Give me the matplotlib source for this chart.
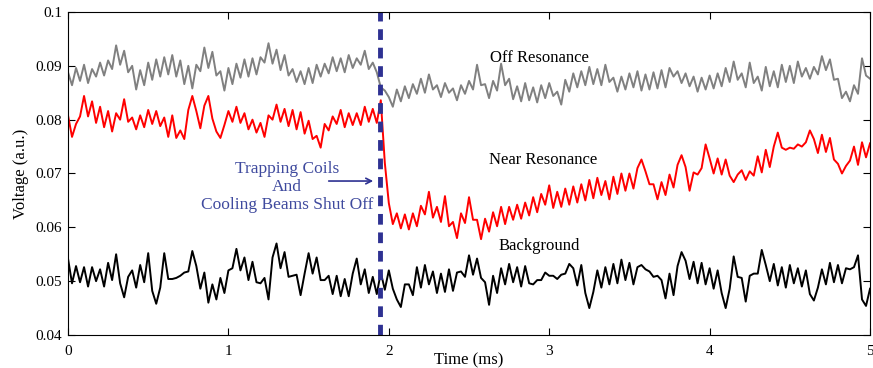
import matplotlib
matplotlib.use("Agg")
import matplotlib.pyplot as plt
import numpy as np

# sample times (ms), one reading every 0.025 ms
time_ms = np.linspace(0, 5, 201)

# readings in units of 1e-3 a.u.
off_resonance = [
    88.8, 86.4, 89.6, 87.2, 90.2, 86.8, 89.4, 88.0,
    90.6, 88.2, 91.0, 89.4, 93.8, 90.2, 92.8, 88.8,
    90.0, 85.6, 89.2, 86.4, 90.6, 87.4, 91.2, 88.0,
    91.6, 88.4, 92.0, 88.0, 91.0, 86.6, 90.0, 85.8,
    90.2, 89.0, 93.4, 89.6, 92.6, 88.2, 89.0, 85.4,
    89.6, 86.6, 90.4, 87.8, 91.2, 88.0, 91.4, 88.4,
    91.6, 90.6, 94.2, 90.4, 93.0, 89.2, 92.0, 88.2,
    89.4, 87.0, 89.0, 86.6, 89.6, 86.8, 90.2, 88.0,
    90.4, 88.6, 91.6, 89.0, 91.4, 88.8, 92.0, 89.6,
    91.4, 90.2, 92.8, 89.4, 90.6, 88.8, 86.0, 85.4,
    84.2, 82.4, 85.6, 83.4, 86.2, 84.0, 86.6, 84.8,
    87.6, 85.0, 88.4, 85.6, 86.4, 84.2, 86.8, 85.0,
    85.8, 83.6, 86.4, 84.8, 87.2, 85.6, 90.2, 86.4,
    86.6, 84.0, 87.2, 85.4, 90.4, 86.4, 87.6, 83.8,
    86.2, 83.4, 86.8, 83.6, 86.0, 83.2, 86.4, 84.0,
    86.8, 84.4, 85.2, 82.8, 87.4, 85.2, 88.6, 86.0,
    89.0, 86.4, 89.8, 86.6, 89.4, 86.4, 90.2, 87.0,
    87.8, 85.2, 88.0, 85.6, 88.6, 86.0, 89.0, 85.4,
    88.4, 85.6, 88.8, 85.8, 89.2, 86.0, 89.6, 88.0,
    89.0, 86.8, 88.6, 86.2, 88.0, 85.2, 87.8, 85.6,
    88.2, 85.8, 88.6, 86.2, 89.6, 87.0, 90.8, 87.4,
    88.6, 86.0, 90.6, 86.8, 88.0, 85.4, 89.8, 86.2,
    89.0, 86.0, 90.2, 87.0, 90.0, 86.8, 90.8, 88.0,
    89.6, 87.6, 89.8, 88.4, 91.8, 89.2, 91.2, 87.4,
    87.6, 84.0, 85.2, 83.4, 86.4, 84.8, 91.4, 88.2,
    87.6,
]

near_resonance = [
    80.8, 76.8, 79.2, 80.6, 84.4, 80.6, 83.4, 79.4,
    82.4, 78.6, 81.6, 77.8, 81.2, 80.0, 83.8, 79.6,
    80.4, 78.2, 80.8, 78.6, 81.8, 79.2, 81.6, 78.8,
    80.4, 76.8, 80.8, 76.6, 78.0, 76.4, 81.8, 84.4,
    81.6, 78.4, 82.6, 84.4, 80.2, 77.8, 76.6, 79.0,
    81.6, 79.6, 82.4, 79.4, 81.2, 78.2, 80.0, 77.6,
    79.4, 76.8, 80.8, 80.0, 82.8, 79.6, 82.0, 78.8,
    81.8, 78.2, 81.4, 77.4, 79.8, 76.4, 77.0, 74.8,
    79.2, 78.0, 80.6, 79.2, 81.8, 78.6, 81.2, 79.0,
    81.2, 79.0, 82.4, 79.6, 82.0, 79.4, 83.6, 72.0,
    64.5, 60.6, 62.6, 59.8, 62.4, 59.6, 62.6, 60.2,
    64.0, 62.4, 66.6, 61.8, 63.8, 61.0, 65.8, 60.2,
    61.0, 58.0, 62.6, 60.8, 65.6, 61.4, 61.4, 57.8,
    61.6, 59.2, 62.8, 60.2, 63.8, 60.6, 63.8, 61.4,
    64.2, 61.6, 64.6, 62.2, 65.6, 62.8, 66.2, 64.2,
    67.8, 63.6, 66.6, 63.8, 67.2, 64.2, 67.6, 64.6,
    68.0, 65.0, 68.8, 65.4, 69.2, 66.0, 68.6, 65.2,
    69.4, 66.2, 70.0, 66.8, 70.0, 67.2, 71.0, 72.6,
    70.4, 68.0, 68.0, 65.2, 68.4, 66.0, 69.8, 67.4,
    71.6, 73.4, 71.2, 66.8, 70.2, 69.8, 71.0, 75.4,
    72.8, 70.0, 72.8, 69.8, 72.6, 69.6, 68.4, 69.8,
    70.6, 68.8, 70.4, 69.6, 73.2, 70.2, 74.4, 71.2,
    75.0, 77.6, 74.8, 74.4, 74.8, 74.6, 75.4, 75.0,
    75.8, 78.0, 76.4, 73.8, 77.2, 74.0, 76.6, 72.6,
    71.8, 70.0, 71.4, 72.4, 75.0, 71.6, 75.8, 73.0,
    75.6,
]

background = [
    54.2, 49.6, 52.8, 49.8, 52.6, 49.0, 52.6, 50.0,
    52.2, 49.0, 53.4, 50.2, 55.0, 49.6, 47.0, 50.8,
    52.0, 48.8, 53.0, 49.8, 55.2, 48.2, 45.8, 48.8,
    55.2, 50.4, 50.4, 50.6, 51.0, 51.6, 51.8, 55.6,
    52.8, 48.6, 51.6, 46.0, 49.4, 46.6, 50.6, 47.8,
    52.0, 52.4, 56.0, 52.0, 54.4, 50.2, 53.6, 49.8,
    49.6, 50.6, 46.6, 54.4, 57.0, 52.4, 55.4, 50.8,
    51.0, 51.2, 47.4, 51.4, 55.2, 51.4, 54.4, 50.2,
    50.2, 51.0, 47.6, 51.0, 47.2, 50.4, 47.2, 51.4,
    54.2, 49.4, 52.2, 47.8, 50.8, 47.6, 51.6, 48.4,
    52.0, 48.6, 46.6, 45.2, 49.4, 49.4, 47.4, 52.6,
    48.8, 53.0, 49.4, 51.8, 47.8, 51.4, 48.0, 52.2,
    48.2, 51.6, 51.8, 50.8, 54.8, 51.2, 54.2, 50.6,
    49.8, 45.6, 51.0, 47.8, 52.4, 49.4, 53.2, 49.8,
    52.6, 49.0, 52.8, 49.6, 49.4, 50.2, 50.2, 51.6,
    51.0, 51.0, 50.4, 51.2, 51.4, 53.2, 52.4, 49.2,
    53.0, 47.8, 45.0, 48.0, 52.0, 48.8, 52.6, 49.4,
    53.2, 49.6, 54.0, 50.2, 53.4, 49.4, 52.6, 53.0,
    52.2, 51.8, 50.8, 51.0, 50.2, 46.8, 51.4, 47.4,
    52.8, 55.4, 53.8, 50.4, 53.6, 49.6, 53.4, 49.4,
    52.4, 48.6, 52.0, 47.8, 45.0, 48.6, 54.6, 50.8,
    50.6, 46.2, 51.0, 51.4, 51.4, 55.8, 53.0, 50.0,
    53.2, 49.2, 52.6, 48.8, 53.0, 49.6, 52.4, 49.0,
    52.0, 47.6, 46.4, 48.8, 52.2, 49.4, 53.4, 49.8,
    53.0, 49.6, 52.4, 52.2, 52.6, 54.8, 46.6, 45.4,
    48.6,
]

shut_off_time = 1.945

x_ticks = [0, 1, 2, 3, 4, 5]
y_ticks = [0.04, 0.05, 0.06, 0.07, 0.08, 0.09, 0.1]
y_tick_labels = ["0.04", "0.05", "0.06", "0.07", "0.08", "0.09", "0.1"]

plt.rcParams['font.family'] = ['Liberation Serif', 'DejaVu Serif']

fig = plt.figure(figsize=(8.73, 3.68), dpi=100)
ax = fig.add_axes([0.0779, 0.0897, 0.9187, 0.8777])

# --- traces ---
ax.plot(time_ms, np.array(off_resonance) / 1000, color="#808080", lw=1.4)
ax.plot(time_ms, np.array(near_resonance) / 1000, color="#ff0000", lw=1.4)
ax.plot(time_ms, np.array(background) / 1000, color="black", lw=1.4)

# shut-off marker
ax.axvline(shut_off_time, color="#2e3192", lw=3.5, dashes=(2.2, 1.6))

# --- labels on the traces ---
ax.text(2.94, 0.0915, "Off Resonance", ha="center", va="center", fontsize=12)
ax.text(2.96, 0.0725, "Near Resonance", ha="center", va="center", fontsize=12)
ax.text(2.94, 0.0565, "Background", ha="center", va="center", fontsize=12)

ax.text(1.365, 0.0675, "Trapping Coils\nAnd\nCooling Beams Shut Off",
        ha="center", va="center", multialignment="center",
        color="#3f4a9e", fontsize=12.5, linespacing=1.2)
ax.annotate("", xy=(1.92, 0.0686), xytext=(1.608, 0.0686),
            arrowprops=dict(arrowstyle="->", color="#2e3192", lw=1.2))

# --- axes ---
ax.set_xlim(0, 5)
ax.set_ylim(0.04, 0.1)
ax.set_xticks(x_ticks)
ax.set_yticks(y_ticks)
ax.set_yticklabels(y_tick_labels)
ax.tick_params(direction="in", top=True, right=True, length=5, labelsize=11)
ax.tick_params(axis="x", pad=7)
ax.tick_params(axis="y", pad=4)
ax.set_xlabel("Time (ms)", fontsize=12, labelpad=-3.5)
ax.set_ylabel("Voltage (a.u.)", fontsize=12, labelpad=5)
for s in ax.spines.values():
    s.set_linewidth(0.8)

fig.savefig("out.png", dpi=100)
